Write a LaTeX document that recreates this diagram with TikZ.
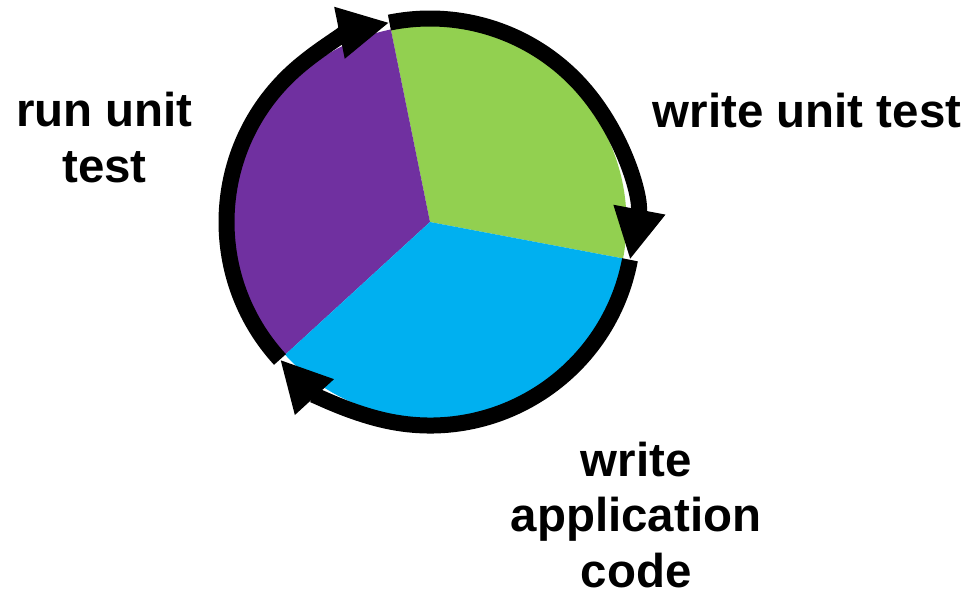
\documentclass[tikz,border=0pt]{standalone}
\usepackage{fontspec}
\setmainfont{Liberation Sans}
\usetikzlibrary{arrows.meta}
\definecolor{writegreen}{HTML}{92D050}
\definecolor{runpurple}{HTML}{7030A0}
\definecolor{codeblue}{HTML}{00B0F0}
\tikzset{
  steptext/.style={font=\bfseries\fontsize{27}{31.5}\selectfont, align=center, anchor=base},
  cyclearrow/.style={line width=0.32cm, -{Triangle[width=0.98cm,length=1.02cm]}}
}
\begin{document}
\begin{tikzpicture}
    \useasboundingbox (0,0) rectangle (19.38,12.14);
    \coordinate (c) at (8.6,7.7);
    \foreach \a/\b/\col in {-10.7/101.5/writegreen, 101.5/222.5/runpurple, 222.5/349.3/codeblue}
      \fill[\col] (c) -- ++(\a:3.93) arc[start angle=\a, end angle=\b, radius=3.93] -- cycle;
    \foreach \a/\b in {101.5/-10.7, -10.7/-137.5, 222.5/101.5}
      \draw[cyclearrow] (c) ++(\a:4.07) arc[start angle=\a, end angle=\b, radius=4.07];
    \node[steptext] (writetest) at (16.14,9.6) {write unit test};
    \node[steptext] (runtest) at (2.09,8.5) {run unit\\test};
    \node[steptext] (writecode) at (12.72,0.4) {write\\application\\code};
  \end{tikzpicture}
\end{document}
